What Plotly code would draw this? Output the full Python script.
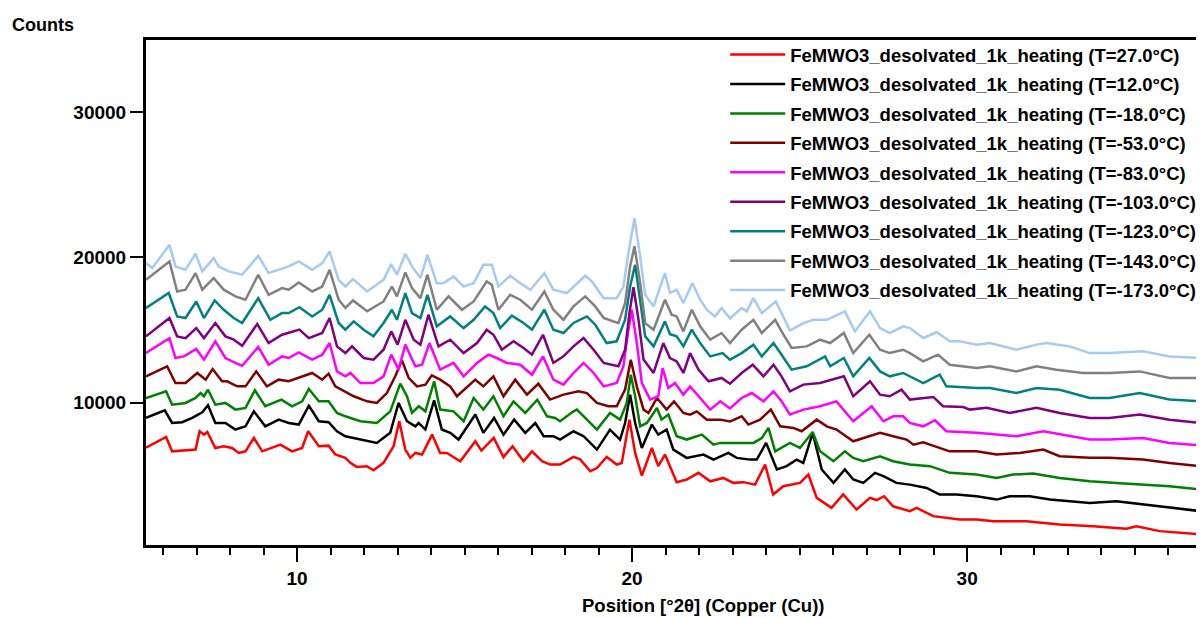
import plotly.graph_objects as go

# (2theta [deg], counts), one list per temperature
T_27 = [(5.49,6900),(6.09,7640),(6.27,6650),(6.97,6770),(7.09,8030),(7.22,7800),(7.32,7980),(7.56,6880),(7.81,7000),(8.06,6880),(8.26,6540),(8.46,6650),(8.71,7570),(8.96,6650),(9.5,7110),(9.85,6650),(10.15,6880),(10.33,8030),(10.65,7000),(10.94,7040),(11.14,6430),(11.44,6200),(11.59,5860),(11.78,5580),(12.08,5630),(12.28,5350),(12.58,5860),(12.88,7000),(13.05,8720),(13.23,6770),(13.38,6200),(13.53,6540),(13.73,6430),(14.03,7800),(14.27,6540),(14.47,6540),(14.87,5970),(15.32,7340),(15.5,6700),(15.87,7570),(16.16,6250),(16.43,7000),(16.76,5970),(17.01,6650),(17.31,5970),(17.56,5740),(17.85,5740),(18.25,6270),(18.45,6100),(18.75,5280),(18.95,5500),(19.24,6270),(19.54,5740),(19.69,5850),(19.92,8830),(20.09,6540),(20.29,4980),(20.59,6880),(20.78,5630),(20.98,6430),(21.33,4530),(21.63,4710),(21.98,5170),(22.33,4590),(22.72,4820),(23.02,4480),(23.32,4530),(23.67,4360),(23.97,5740),(24.21,3680),(24.51,4250),(25.01,4480),(25.26,5050),(25.51,3450),(25.95,2760),(26.3,3680),(26.7,2650),(27.1,3450),(27.3,3300),(27.52,3560),(27.79,2870),(28.29,2530),(28.49,2760),(28.99,2190),(29.78,1960),(30.28,1960),(30.78,1840),(31.77,1840),(32.76,1610),(33.76,1500),(34.75,1320),(35.05,1500),(35.75,1160),(36.98,930)]

T_12 = [(5.49,8950),(6.05,9470),(6.27,8600),(6.57,8650),(6.87,8950),(7.17,9340),(7.34,9820),(7.56,8600),(7.86,8600),(8.16,8150),(8.46,8370),(8.71,9400),(9.05,8370),(9.45,8830),(9.75,8600),(10.05,8490),(10.35,9790),(10.65,8720),(10.94,8650),(11.19,8030),(11.44,7690),(11.89,7460),(12.38,7230),(12.78,7920),(13.03,9980),(13.28,8720),(13.53,8370),(13.63,8600),(13.83,8150),(14.09,10160),(14.32,8150),(14.57,7920),(14.82,7460),(15.32,9180),(15.56,7920),(15.88,8950),(16.16,7800),(16.48,8830),(16.81,7920),(17.11,8600),(17.36,7690),(17.65,7690),(17.85,7460),(18.25,8030),(18.55,7690),(18.95,6770),(19.34,8140),(19.64,7460),(19.79,8600),(19.94,10550),(20.09,8600),(20.29,6880),(20.59,8490),(20.78,7800),(21.03,8140),(21.23,6770),(21.63,6200),(22.13,6430),(22.43,6080),(22.87,6540),(23.12,6200),(23.52,6080),(23.72,6080),(24.0,7230),(24.32,5400),(24.61,5630),(24.91,6080),(25.11,5850),(25.39,7920),(25.66,5400),(26.01,4480),(26.35,5400),(26.6,4710),(26.9,4480),(27.25,5170),(27.5,4940),(27.89,4480),(28.29,4360),(28.79,4130),(29.18,3680),(29.68,3680),(30.28,3560),(30.88,3330),(31.27,3560),(31.87,3560),(32.47,3330),(33.06,3220),(33.66,3100),(34.45,3220),(35.25,2990),(36.04,2760),(36.98,2530)]

T_m18 = [(5.49,10320),(6.09,10780),(6.27,9860),(6.67,9980),(6.97,10320),(7.12,10660),(7.22,10440),(7.34,10890),(7.56,9860),(7.86,9980),(8.16,9520),(8.46,9640),(8.74,10850),(9.05,9750),(9.53,10210),(9.85,9750),(10.15,10090),(10.35,10940),(10.65,10090),(10.94,10090),(11.19,9290),(11.44,9060),(11.89,8720),(12.38,8600),(12.78,9400),(13.08,11310),(13.28,10440),(13.43,9290),(13.63,9750),(13.83,9400),(14.09,11470),(14.27,9520),(14.67,9400),(14.97,8720),(15.27,10320),(15.56,9520),(15.86,10440),(16.16,9060),(16.46,10090),(16.81,9290),(17.17,10200),(17.46,9060),(17.7,8950),(17.85,8720),(18.25,9400),(18.35,9520),(18.6,8950),(18.95,8150),(19.34,9290),(19.64,8830),(19.84,9980),(19.96,11920),(20.09,10440),(20.24,8370),(20.44,8600),(20.74,9630),(20.88,8830),(21.08,9180),(21.33,7690),(21.63,7460),(22.08,7800),(22.43,7110),(22.63,7230),(23.02,7230),(23.62,7230),(23.87,7570),(24.07,8260),(24.27,6650),(24.71,7230),(25.01,6880),(25.39,7980),(25.61,6650),(26.01,5970),(26.35,6650),(26.6,6200),(26.9,5970),(27.4,6310),(27.79,5970),(28.29,5740),(28.89,5630),(29.48,5170),(30.28,5050),(30.88,4820),(31.37,5050),(31.97,5120),(32.76,4820),(33.66,4590),(34.45,4470),(35.25,4360),(36.04,4250),(36.98,4020)]

T_m53 = [(5.49,11810),(6.12,12500),(6.37,11350),(6.67,11350),(7.02,12040),(7.27,11580),(7.48,12310),(7.76,11470),(7.91,11470),(8.21,11120),(8.46,11120),(8.78,12150),(9.1,11120),(9.45,11580),(9.75,11470),(10.05,11700),(10.45,12040),(10.75,11580),(10.94,11990),(11.14,11120),(11.44,10780),(11.69,10440),(12.09,10090),(12.38,9980),(12.68,10660),(12.93,11810),(13.13,12910),(13.33,11700),(13.58,11120),(13.83,11240),(14.02,11880),(14.27,11580),(14.57,11120),(14.77,10440),(15.32,11580),(15.56,11120),(15.86,11810),(16.16,10440),(16.51,11580),(16.86,10550),(17.2,11300),(17.55,10210),(17.95,10550),(18.4,10780),(18.65,10660),(18.95,9980),(19.29,9750),(19.54,9750),(19.79,10900),(19.96,12950),(20.14,11120),(20.34,9520),(20.49,9290),(20.74,10320),(21.03,9520),(21.25,10090),(21.53,9290),(21.73,9170),(21.93,9400),(22.23,8830),(22.63,8830),(22.92,8700),(23.27,9060),(23.47,8490),(23.82,8830),(24.14,9520),(24.42,8370),(24.81,8260),(25.06,8030),(25.51,8830),(25.81,8370),(26.1,8150),(26.6,7340),(27.1,7690),(27.4,7920),(27.79,7690),(28.19,7460),(28.4,7110),(28.69,7270),(28.89,7110),(29.48,6650),(30.28,6650),(30.88,6430),(31.57,6540),(32.27,6770),(32.76,6310),(33.66,6200),(34.25,6200),(35.25,6080),(36.04,5850),(36.98,5630)]

T_m83 = [(5.49,13410),(6.19,14440),(6.37,13070),(6.62,13180),(6.99,13690),(7.22,12960),(7.56,14220),(7.86,13070),(8.16,12730),(8.36,12540),(8.84,13830),(9.15,12610),(9.55,13180),(9.75,13070),(10.05,13460),(10.45,12960),(10.75,13300),(10.97,14100),(11.19,12150),(11.44,11810),(11.59,12040),(11.89,11350),(12.28,11350),(12.58,11810),(12.81,13300),(13.03,12270),(13.23,13990),(13.53,12500),(13.73,12610),(13.95,14100),(14.27,12270),(14.67,12730),(14.97,11810),(15.37,12730),(15.71,13300),(15.96,13070),(16.26,12730),(16.66,12610),(17.01,11920),(17.34,13180),(17.65,11580),(17.95,11240),(18.25,12040),(18.55,12730),(18.85,12040),(19.15,11120),(19.54,11350),(19.74,12500),(19.89,15020),(19.99,16390),(20.14,14100),(20.29,11350),(20.54,10210),(20.78,10440),(20.91,12380),(21.08,11010),(21.28,11350),(21.53,10550),(21.73,11120),(21.98,10440),(22.33,9520),(22.63,10090),(22.92,9600),(23.27,10320),(23.57,10660),(23.92,10090),(24.22,10780),(24.46,10090),(24.71,9180),(25.11,9520),(25.61,9750),(26.1,10090),(26.6,8720),(27.15,9750),(27.5,8720),(27.79,9060),(28.09,9060),(28.29,8600),(28.69,8370),(29.04,8790),(29.38,8030),(30.28,7920),(30.88,7800),(31.47,7690),(32.27,8030),(32.86,7800),(33.66,7460),(34.25,7460),(35.25,7570),(36.04,7230),(36.98,7050)]

T_m103 = [(5.49,14560),(6.19,15820),(6.42,14560),(6.67,14440),(6.99,15130),(7.22,14440),(7.56,15480),(7.86,14560),(8.11,14330),(8.36,13920),(8.81,15410),(9.15,14100),(9.55,14670),(10.07,15020),(10.35,14440),(10.75,14790),(10.97,15820),(11.19,13870),(11.44,13410),(11.64,13870),(11.99,13070),(12.28,12960),(12.58,13640),(12.81,14900),(13.0,13990),(13.23,15700),(13.48,14330),(13.68,13990),(13.92,16050),(14.22,13870),(14.57,14330),(14.97,13410),(15.37,14100),(15.66,15020),(15.86,14670),(16.11,13640),(16.46,14220),(16.76,13760),(17.01,13300),(17.34,14670),(17.65,12730),(17.95,13190),(18.25,13870),(18.55,14450),(18.85,13640),(19.15,12730),(19.59,12500),(19.79,13640),(19.92,16160),(20.04,17950),(20.19,15700),(20.34,12960),(20.64,12040),(20.93,14100),(21.13,13070),(21.33,12840),(21.53,12040),(21.73,13410),(21.98,12270),(22.28,11470),(22.67,11700),(22.92,11300),(23.27,12040),(23.6,12610),(23.92,11810),(24.22,12610),(24.46,11810),(24.71,10780),(25.11,11240),(25.61,11350),(26.32,11810),(26.6,10440),(27.1,11470),(27.4,10550),(27.69,10440),(28.04,10890),(28.29,10210),(28.99,10390),(29.28,9750),(29.88,9700),(30.08,9520),(30.58,9640),(31.27,9290),(32.07,9640),(32.76,9290),(33.66,8950),(34.25,8950),(35.15,9180),(36.04,8830),(36.98,8600)]

T_m123 = [(5.49,16510),(6.17,17540),(6.42,15930),(6.67,15820),(6.99,16960),(7.22,15820),(7.54,17030),(7.81,16390),(8.11,15820),(8.36,15480),(8.84,17190),(9.2,15700),(9.55,16160),(9.75,16160),(10.07,16570),(10.45,15930),(10.75,16390),(10.97,17420),(11.24,15480),(11.44,15020),(11.69,15590),(11.99,15020),(12.28,14560),(12.58,15480),(12.83,16390),(12.98,15700),(13.23,17540),(13.43,16160),(13.68,15820),(13.89,17420),(14.17,15250),(14.57,15930),(14.97,15130),(15.27,15700),(15.61,16620),(15.86,16160),(16.06,15130),(16.41,15980),(16.76,15480),(17.01,15020),(17.38,16390),(17.65,15020),(17.95,14790),(18.25,15480),(18.65,15930),(18.9,15360),(19.24,14100),(19.54,14220),(19.79,15700),(19.94,17990),(20.09,19480),(20.24,17190),(20.39,14560),(20.64,13870),(20.98,15590),(21.13,14700),(21.33,14560),(21.53,13870),(21.78,15020),(22.03,14100),(22.33,13180),(22.7,13410),(22.92,12960),(23.27,13410),(23.62,13990),(23.87,13180),(24.22,14100),(24.46,13300),(24.76,12270),(25.21,12500),(25.76,13180),(25.91,12500),(26.32,13070),(26.6,11810),(27.08,13070),(27.4,12150),(27.69,11810),(28.09,12040),(28.29,11810),(28.69,11350),(29.18,11920),(29.38,11120),(30.28,11010),(30.68,11010),(31.47,10660),(32.07,11010),(32.76,10890),(33.66,10320),(34.25,10320),(35.15,10660),(36.04,10210),(36.98,10090)]

T_m143 = [(5.49,18450),(6.19,19710),(6.42,17650),(6.67,17770),(6.97,18910),(7.17,17770),(7.51,18570),(7.81,17770),(8.16,17310),(8.46,17080),(8.84,18800),(9.15,17420),(9.55,17880),(9.75,17770),(10.05,18270),(10.45,17650),(10.75,17990),(10.97,19140),(11.24,17080),(11.44,16510),(11.67,17030),(12.09,16280),(12.58,16960),(12.83,17990),(12.98,17310),(13.23,18960),(13.43,17880),(13.68,17190),(13.89,18800),(14.17,16390),(14.52,17310),(14.92,16390),(15.27,16960),(15.66,18340),(15.81,18110),(16.01,16390),(16.36,17420),(16.66,17080),(17.01,16390),(17.38,17650),(17.65,16390),(17.95,15700),(18.25,16620),(18.6,17310),(18.9,16620),(19.15,15820),(19.59,15470),(19.79,16850),(19.94,19370),(20.07,20750),(20.24,18230),(20.39,15470),(20.64,15020),(20.98,17080),(21.18,16050),(21.33,15930),(21.53,14900),(21.78,16390),(22.03,15250),(22.33,14330),(22.67,14790),(22.92,14100),(23.27,15020),(23.62,15700),(23.87,14790),(24.27,15700),(24.46,14900),(24.76,13760),(25.21,13870),(25.61,14330),(25.91,14100),(26.32,14790),(26.6,13410),(27.08,14670),(27.4,13640),(27.69,13410),(28.09,13640),(28.29,13410),(28.69,12840),(29.13,13300),(29.48,12610),(30.28,12380),(30.68,12500),(31.47,12150),(32.07,12500),(32.66,12270),(33.46,12040),(34.25,12040),(35.15,12150),(36.04,11700),(36.98,11700)]

T_m173 = [(5.49,19600),(5.68,19260),(6.19,20860),(6.37,19370),(6.67,19140),(6.97,20240),(7.17,19030),(7.51,19940),(7.66,19370),(7.96,19030),(8.36,18800),(8.84,20100),(9.15,18910),(9.45,19140),(9.75,19370),(10.05,19710),(10.45,19140),(10.75,19600),(10.97,20400),(11.24,18450),(11.44,17990),(11.67,18500),(12.09,17650),(12.58,18450),(12.81,19530),(12.98,18800),(13.23,20240),(13.43,19370),(13.68,18570),(13.89,20170),(14.17,18220),(14.37,18220),(14.67,18680),(14.97,17990),(15.27,18220),(15.56,19480),(15.81,19480),(16.01,17990),(16.36,18730),(16.66,18220),(16.96,17770),(17.38,18910),(17.65,17770),(18.05,17540),(18.25,17990),(18.6,18730),(18.8,18340),(19.15,17190),(19.54,17190),(19.74,17990),(19.89,20290),(20.07,22690),(20.24,20060),(20.39,17420),(20.64,16620),(20.98,18910),(21.13,17540),(21.33,17770),(21.53,16850),(21.8,18230),(22.03,17080),(22.23,16390),(22.47,15930),(22.67,16510),(22.92,15800),(23.27,16510),(23.42,16280),(23.62,17190),(23.87,16160),(24.29,16960),(24.46,16160),(24.71,14960),(25.11,15470),(25.41,15700),(25.81,15700),(26.35,16280),(26.65,14900),(27.1,16280),(27.4,15130),(27.69,14790),(28.09,15250),(28.29,15130),(28.69,14450),(29.09,14840),(29.48,14220),(29.78,14220),(30.28,13990),(30.68,14100),(31.47,13640),(32.07,13990),(32.37,14100),(33.06,13870),(33.66,13410),(34.25,13410),(35.25,13530),(36.04,13180),(36.98,13070)]

temperatures = ["27.0", "12.0", "-18.0", "-53.0", "-83.0", "-103.0", "-123.0", "-143.0", "-173.0"]
patterns = [T_27, T_12, T_m18, T_m53, T_m83, T_m103, T_m123, T_m143, T_m173]
colors = ["#ff0000", "#000000", "#008000", "#800000", "#ff00ff", "#800080", "#008080", "#808080", "#a6caf0"]

x_ticks = [10, 20, 30]
y_ticks = [10000, 20000, 30000]

FONT = "Liberation Sans"

fig = go.Figure()
for i, (t, pat, col) in enumerate(zip(temperatures, patterns, colors)):
    fig.add_trace(go.Scatter(
        x=[p[0] for p in pat], y=[p[1] for p in pat], mode="lines",
        line=dict(color=col, width=2.5),
        name=f"FeMWO3_desolvated_1k_heating (T={t}°C)",
        legendgroup=f"g{i}",
    ))

fig.update_layout(
    width=1196, height=610,
    margin=dict(l=138, r=3, t=32, b=73),
    paper_bgcolor="white", plot_bgcolor="white",
    font=dict(family=FONT, size=18.5, color="black", weight="bold"),
    showlegend=True,
    legend=dict(x=0.549, y=1.008, xanchor="left", yanchor="top",
                bgcolor="rgba(0,0,0,0)", borderwidth=0,
                font=dict(family=FONT, size=18.5, color="black", weight="bold"),
                itemwidth=55, tracegroupgap=2.4, traceorder="grouped"),
    xaxis=dict(range=[5.49, 36.98], tickvals=x_ticks, ticks="outside", ticklen=14, tickwidth=2,
               tickcolor="black", showline=True, linewidth=3, linecolor="black", mirror=True,
               showgrid=False, zeroline=False, automargin=False,
               tickfont=dict(family=FONT, size=19, color="black", weight="bold"),
               minor=dict(dtick=1, tick0=0, ticks="outside", ticklen=7, tickwidth=2, tickcolor="black", showgrid=False)),
    yaxis=dict(range=[206, 34948], tickvals=y_ticks, tickformat="d", ticks="outside", ticklen=13, tickwidth=2,
               tickcolor="black", showline=True, linewidth=3, linecolor="black", mirror=True,
               showgrid=False, zeroline=False, automargin=False,
               tickfont=dict(family=FONT, size=19, color="black", weight="bold")),
    annotations=[
        dict(text="Counts", xref="paper", yref="paper", x=-0.129, y=1.0297, xanchor="left", yanchor="middle",
             showarrow=False, font=dict(family=FONT, size=18, color="black", weight="bold")),
        dict(text="Position [°2θ] (Copper (Cu))", xref="paper", yref="paper", x=0.528, y=-0.119,
             xanchor="center", yanchor="middle", showarrow=False,
             font=dict(family=FONT, size=18.5, color="black", weight="bold")),
    ],
)

fig.write_html("out.html")
